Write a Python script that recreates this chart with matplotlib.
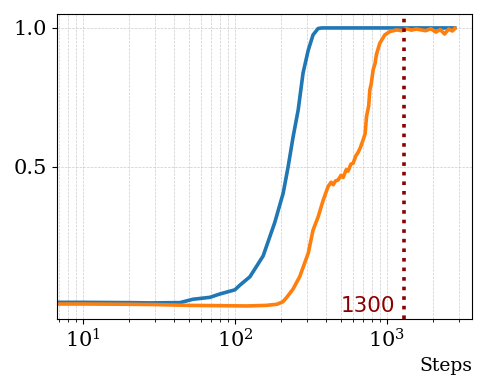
import numpy as np
import matplotlib
matplotlib.use('Agg')
import matplotlib.pyplot as plt

# steps / accuracy
blue_steps = [1, 10, 20, 27.6, 43.5, 52.9, 68.5, 79.6, 100, 108, 125.6, 153.5, 183,
              208, 224, 242, 261, 281, 304, 327, 353, 373, 500, 1000, 2000, 2800]
blue_acc = [0.013, 0.013, 0.012, 0.011, 0.012, 0.024, 0.031, 0.043, 0.058, 0.075, 0.105,
            0.18, 0.30, 0.406, 0.50, 0.61, 0.705, 0.838, 0.92, 0.975, 0.998, 1.0, 1.0,
            1.0, 1.0, 1.0]

orange_steps = [1, 10, 20, 30, 50, 80, 120, 160, 189, 207, 218, 241, 267, 304, 327,
                353, 381, 411, 430, 444, 460, 478, 500, 516, 540, 556, 580, 600, 625,
                647, 670, 698, 720, 735, 760, 773, 790, 813, 835, 855, 899, 970, 1047,
                1159, 1250, 1349, 1450, 1560, 1680, 1800, 1950, 2100, 2250, 2400, 2550,
                2700, 2800]
orange_acc = [0.007, 0.007, 0.006, 0.005, 0.002, 0.001, 0.0, 0.002, 0.006, 0.015, 0.029,
              0.06, 0.105, 0.19, 0.273, 0.32, 0.38, 0.43, 0.445, 0.436, 0.45, 0.453,
              0.47, 0.462, 0.49, 0.485, 0.51, 0.513, 0.54, 0.552, 0.57, 0.597, 0.62,
              0.681, 0.72, 0.777, 0.8, 0.85, 0.87, 0.905, 0.945, 0.975, 0.987, 0.993,
              0.99, 0.997, 0.992, 0.996, 0.993, 0.99, 0.997, 0.985, 0.994, 0.978,
              0.996, 0.989, 0.998]

threshold = 1300

plt.rcParams['font.family'] = 'DejaVu Serif'
plt.rcParams['mathtext.fontset'] = 'dejavuserif'

fig = plt.figure(figsize=(4.87, 3.9), dpi=100)
ax = fig.add_axes([0.117, 0.182, 0.852, 0.782])

ax.plot(blue_steps, blue_acc, color='#1f77b4', lw=2.6)
ax.plot(orange_steps, orange_acc, color='#ff7f0e', lw=2.6)
ax.axvline(threshold, color='darkred', ls=':', lw=2.6)
ax.text(threshold / 1.15, -0.022, str(threshold), color='darkred', fontsize=15.5,
        family='DejaVu Sans', ha='right', va='baseline')

ax.set_xscale('log')
ax.set_xlim(6.75, 3630)
ax.set_ylim(-0.047, 1.05)
ax.set_yticks([0.5, 1.0])
ax.tick_params(labelsize=15)
ax.grid(True, which='both', ls='--', lw=0.5, color='#cccccc')
ax.set_xlabel('Steps', fontsize=13.5, loc='right')

fig.savefig('out.png', dpi=100)
